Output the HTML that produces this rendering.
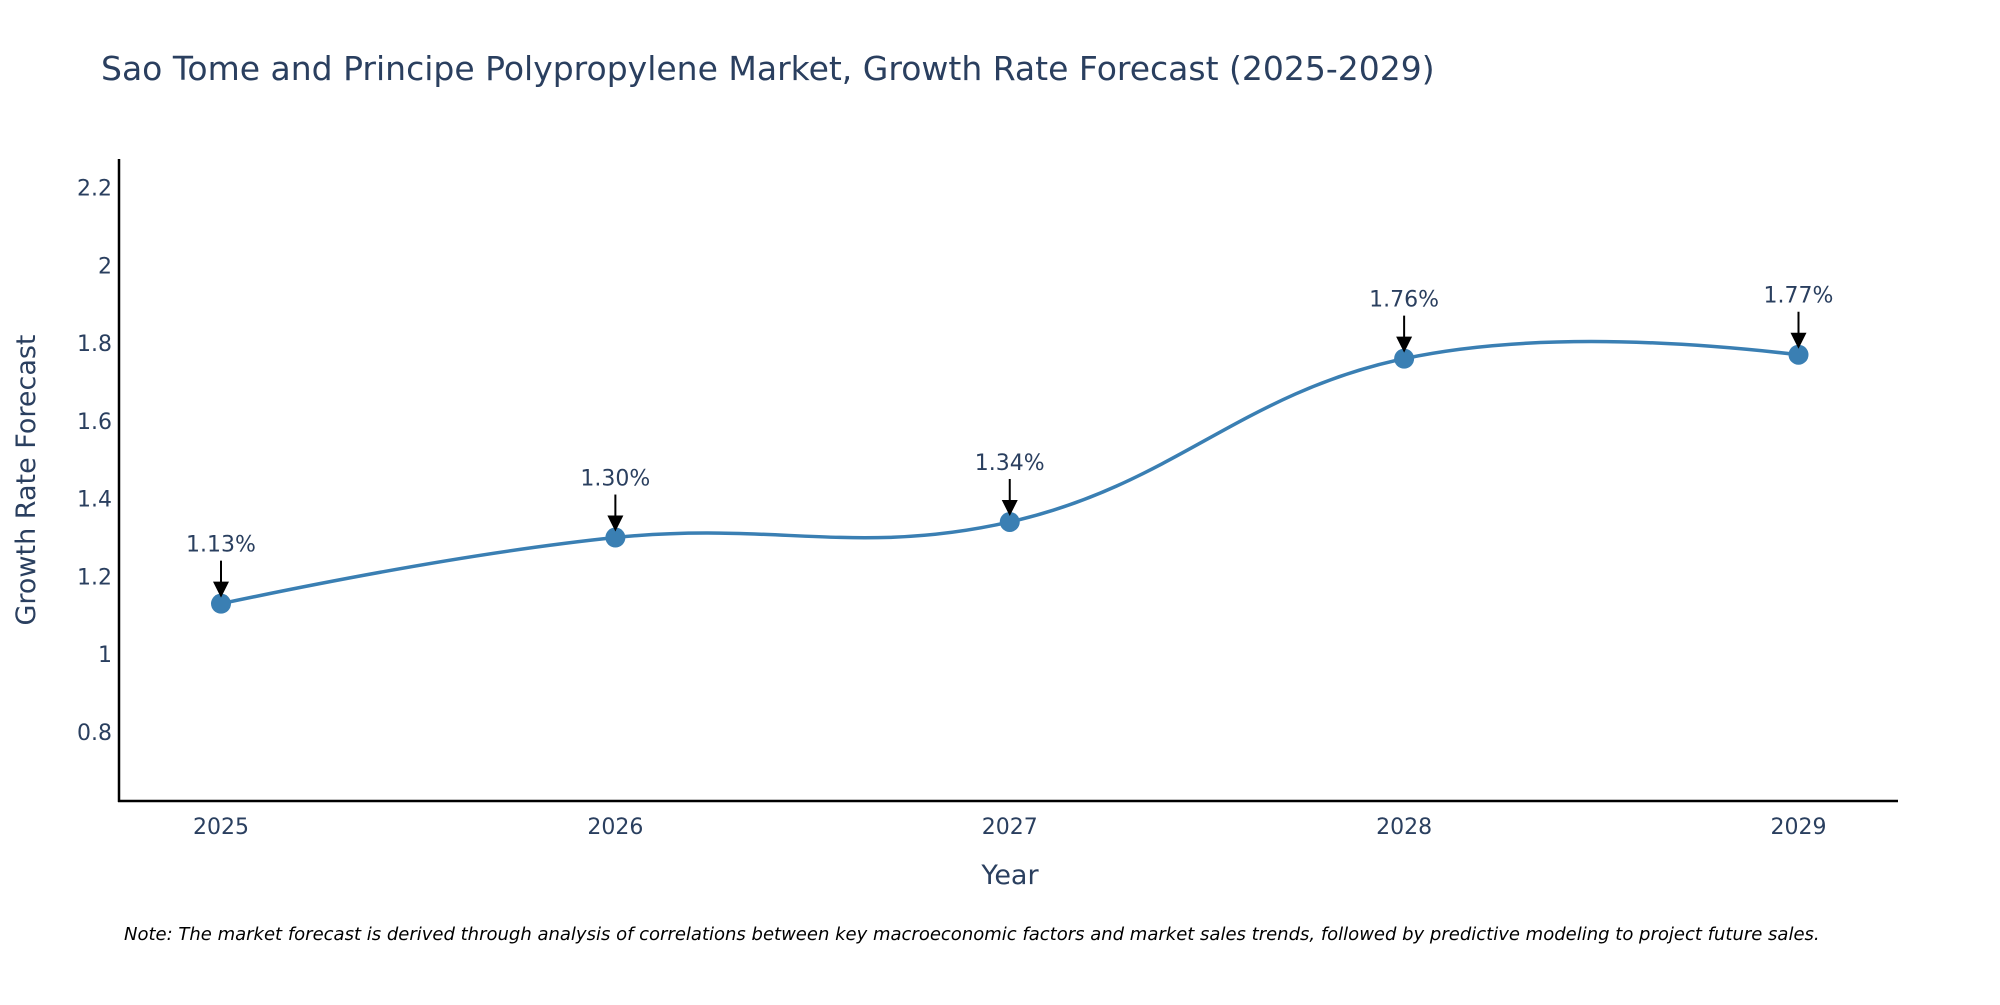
<!DOCTYPE html>
<html><head><meta charset="utf-8"><style>
body{margin:0;background:#fff;}
svg text{font-family:"DejaVu Sans","Liberation Sans",sans-serif;fill:#2a3f5f;}
</style></head><body>
<svg id="chart" width="2000" height="1000" xmlns="http://www.w3.org/2000/svg">
<text x="101" y="80" font-size="33">Sao Tome and Principe Polypropylene Market, Growth Rate Forecast (2025-2029)</text>
<g id="yticks"></g>
<g id="xticks"></g>
<line x1="119" y1="159" x2="119" y2="802" stroke="#000" stroke-width="2.5"/>
<line x1="118" y1="801" x2="1898" y2="801" stroke="#000" stroke-width="2.5"/>
<text transform="translate(35,480) rotate(-90)" text-anchor="middle" font-size="27">Growth Rate Forecast</text>
<text x="1010" y="884" text-anchor="middle" font-size="27">Year</text>
<g id="series"></g>
<text x="124" y="940" font-size="18" font-style="italic" style="fill:#000">Note: The market forecast is derived through analysis of correlations between key macroeconomic factors and market sales trends, followed by predictive modeling to project future sales.</text>
</svg>
<script>
const categories=["2025","2026","2027","2028","2029"];
const values=[1.13,1.30,1.34,1.76,1.77];
const labels=["1.13%","1.30%","1.34%","1.76%","1.77%"];
const yTicks=[0.8,1,1.2,1.4,1.6,1.8,2,2.2];
const NS="http://www.w3.org/2000/svg";
function xs(i){return 221+i*(1798.5-221)/(categories.length-1);}
function ys(v){return 732-(v-0.8)*(732-187.5)/1.4;}
function mk(t,a,p){const e=document.createElementNS(NS,t);for(const k in a)e.setAttribute(k,a[k]);p.appendChild(e);return e;}
const yt=document.getElementById('yticks');
yTicks.forEach(v=>{const t=mk('text',{x:112,y:ys(v)+8,'text-anchor':'end','font-size':22},yt);t.textContent=String(v);

});
const xt=document.getElementById('xticks');
categories.forEach((c,i)=>{const t=mk('text',{x:xs(i),y:834,'text-anchor':'middle','font-size':22},xt);t.textContent=c;

});
const g=document.getElementById('series');
const P=values.map((v,i)=>[xs(i),ys(v)]);
const s=0.4;let cp=[];
for(let i=1;i<P.length-1;i++){const a=P[i-1],b=P[i],c=P[i+1];
const d1=Math.hypot(b[0]-a[0],b[1]-a[1]),d2=Math.hypot(c[0]-b[0],c[1]-b[1]);
const dx=c[0]-a[0],dy=c[1]-a[1];
cp[i]=[[b[0]-dx*s*d1/(d1+d2),b[1]-dy*s*d1/(d1+d2)],[b[0]+dx*s*d2/(d1+d2),b[1]+dy*s*d2/(d1+d2)]];}
let d=`M${P[0][0]},${P[0][1]} Q${cp[1][0][0]},${cp[1][0][1]} ${P[1][0]},${P[1][1]}`;
for(let i=1;i<P.length-2;i++)d+=` C${cp[i][1][0]},${cp[i][1][1]} ${cp[i+1][0][0]},${cp[i+1][0][1]} ${P[i+1][0]},${P[i+1][1]}`;
const n=P.length-1;d+=` Q${cp[n-1][1][0]},${cp[n-1][1][1]} ${P[n][0]},${P[n][1]}`;
const line=mk('path',{d:d,fill:'none',stroke:'#3a7fb3','stroke-width':3.5},g);


P.forEach((p,i)=>{const c=mk('circle',{cx:p[0],cy:p[1],r:10,fill:'#3a7fb3'},g);


const l=mk('line',{x1:p[0],y1:p[1]-43,x2:p[0],y2:p[1]-20,stroke:'#000','stroke-width':2},g);


const h=mk('polygon',{points:`${p[0]-8},${p[1]-22} ${p[0]+8},${p[1]-22} ${p[0]},${p[1]-6}`,fill:'#000'},g);


const t=mk('text',{x:p[0],y:p[1]-52,'text-anchor':'middle','font-size':22},g);t.textContent=labels[i];

});
</script>
</body></html>
